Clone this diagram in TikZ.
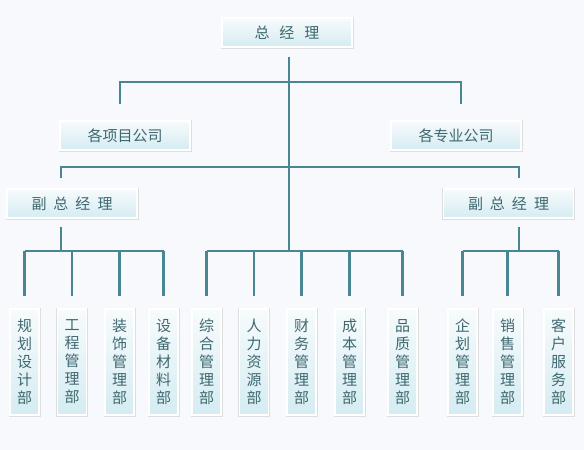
\documentclass[tikz,border=0pt]{standalone}
\usepackage{fontspec}
\newfontfamily\cjk{Noto Sans CJK SC}
\usetikzlibrary{positioning}
\definecolor{LineTeal}{RGB}{72,134,148}
\definecolor{TextTeal}{RGB}{62,104,112}
\definecolor{BoxTop}{RGB}{247,251,252}
\definecolor{BoxBot}{RGB}{212,236,242}
\definecolor{PageBg}{RGB}{247,249,252}
\tikzset{
  box/.style={preaction={draw=black!13,line width=3pt},draw=white,line width=1.2pt,
    top color=BoxTop,bottom color=BoxBot,text=TextTeal,inner sep=0pt,
    font=\cjk\fontsize{15}{18}\selectfont},
  headbox/.style={box,minimum width=130pt,minimum height=29pt},
  deptbox/.style={box,minimum width=29pt,minimum height=106pt,align=center},
  link/.style={LineTeal,line width=2.2pt},
}

\begin{document}
\begin{tikzpicture}[x=1pt,y=-1pt]
  \fill[PageBg] (0,0) rectangle (584,450);
  \useasboundingbox (0,0) rectangle (584,450);
  % top levels
  \node[headbox] (gm) at (287,32.5) {总\hspace{10pt}经\hspace{10pt}理};
  \node[headbox] (proj) at (125,135.5) {各项目公司};
  \node[headbox] (spec) at (456,135.5) {各专业公司};
  \node[headbox] (vpL) at (72,203.5) {副\hspace{7pt}总\hspace{7pt}经\hspace{7pt}理};
  \node[headbox] (vpR) at (508.5,203.5) {副\hspace{7pt}总\hspace{7pt}经\hspace{7pt}理};
  % departments
  \foreach \n/\x/\txt in {d1/24.5/规\\划\\设\\计\\部, d2/72/工\\程\\管\\理\\部,
      d3/119.5/装\\饰\\管\\理\\部, d4/163.5/设\\备\\材\\料\\部,
      d5/206.5/综\\合\\管\\理\\部, d6/254/人\\力\\资\\源\\部,
      d7/301.5/财\\务\\管\\理\\部, d8/349.5/成\\本\\管\\理\\部,
      d9/402.5/品\\质\\管\\理\\部, d10/462.5/企\\划\\管\\理\\部,
      d11/507.5/销\\售\\管\\理\\部, d12/558.5/客\\户\\服\\务\\部}
    \node[deptbox] (\n) at (\x,362) {\txt};
  % buses
  \coordinate (top) at (289,57);
  \coordinate (busA) at (289,82);
  \coordinate (busB) at (289,167);
  \coordinate (busL) at (61,251);
  \coordinate (busM) at (289,251);
  \coordinate (busR) at (519,251);
  \draw[link] (top) -- (busM);
  \draw[link] ([yshift=16pt]proj.north -| 120,0) |- (busA) -| ([yshift=16pt]spec.north -| 461,0);
  \draw[link] ([yshift=10pt]vpL.north -| 61,0) |- (busB) -| ([yshift=10pt]vpR.north -| 519,0);
  \draw[link] ([yshift=-8pt]vpL.south -| busL) -- (busL);
  \draw[link] ([yshift=-8pt]vpR.south -| busR) -- (busR);
  \foreach \n/\b in {d1/busL,d2/busL,d3/busL,d4/busL,d5/busM,d6/busM,d7/busM,
      d8/busM,d9/busM,d10/busR,d11/busR,d12/busR}
    \draw[link] ([yshift=12pt]\n.north) -- (\n.north |- \b);
  \draw[link] (d1.north |- busL) -- (d4.north |- busL);
  \draw[link] (d5.north |- busM) -- (d9.north |- busM);
  \draw[link] (d10.north |- busR) -- (d12.north |- busR);
\end{tikzpicture}
\end{document}
